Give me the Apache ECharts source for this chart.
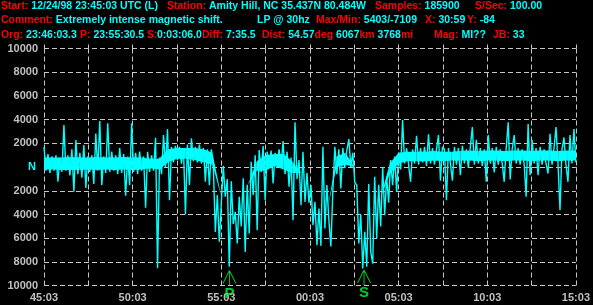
<!DOCTYPE html>
<html>
<head>
<meta charset="utf-8">
<script src="https://cdn.jsdelivr.net/npm/echarts@6/dist/echarts.min.js"></script>
<style>
html,body{margin:0;padding:0;background:#000;}
#chart{width:593px;height:305px;}
</style>
</head>
<body>
<div id="chart"></div>
<script>
// ---- data ----
// time axis: minutes after 23:45:03
const timeLabels = ['45:03', '50:03', '55:03', '00:03', '05:03', '10:03', '15:03'];
const durationMinutes = 30;
// arrival picks (minutes after 23:45:03)
const arrivalNames = ['P', 'S'];
const arrivalMinutes = [10.458, 18.05];
const arrivalMarkerLevel = [-9350, -9300];
// trace envelope samples (alternating highs/lows), evenly spaced over the window
const traceValues = [
  1700, -300, 1100, -500, 900, -300, 1000, -1240, 800, -400,
  3540, -300, 1000, -700, 1500, -2080, 2280, -600, 1200, -900,
  1860, -1750, 900, -400, 1000, -1430, 2840, -300, 3880, -1520,
  900, -500, 3690, -400, 1300, -300, 1000, -600, 1600, -500,
  1100, -2420, 900, -1520, 3690, -400, 1200, -600, 1300, -300,
  900, -3430, 1290, -400, 1000, -300, 2470, -8530, 800, -600,
  2700, 0, 3200, -2790, 1700, 400, 1800, 600, 1700, 300,
  1600, -3990, 1900, -1520, 2420, 500, 1700, 400, 1900, 300,
  1600, -1240, 1500, -1520, 1500, 0, -5460, -2360, -6300, -3000,
  100, -2500, -1000, -8410, -1200, -4800, -3770, -6440, -2500, -5000,
  -950, -7150, -1500, -5600, 450, -2360, 1000, -5320, 1430, -400,
  1770, -2790, 1300, 0, 1400, -1380, 1200, 200, 1500, 0,
  2200, -600, 1300, -1660, 800, -4470, 3770, -1000, 600, -3210,
  1290, -2930, -500, -3000, -1520, -4890, -2930, -6580, -3500, -6640,
  1720, -5180, -1520, -4500, -6700, -1940, 1720, -600, 1500, -1800,
  1600, -100, 1400, 2360, 0, 1200, -1300, -1520, -6440, -4000,
  -8550, -5460, -8400, -1430, -7150, -8130, -820, -6020, -1500, -5000,
  0, -4050, -800, -3000, 590, -1520, 900, -2080, 1200, -200,
  3960, 300, 1600, 200, -1240, 1500, 300, 2640, 200, 1600,
  400, 1700, 100, 2760, 300, 1600, 200, 1500, 2700, -1140,
  1700, 1500, -2790, 1600, 300, -1140, 1700, 200, 1600, -680,
  1800, 300, 1500, -80, 1700, 3380, 200, 2300, 300, 1600,
  100, 1500, -1240, 2700, 300, 1600, -450, 1700, 200, 1500,
  300, -1240, 1600, 3770, -1040, 1500, 2700, 300, 1600, 200,
  1500, 300, -2500, 3630, -680, 2280, 300, 1600, -680, 1700,
  200, 1500, 300, -540, 2800, 200, 1600, 3380, 300, -3630,
  1500, 2500, 200, -1240, 2700, 300, 3200, 400
];
// dense core of the trace, every half minute: upper and lower edges
// (equal edges where the trace has no solid core)
const coreTop = [
  800, 800, 800, 850, 800, 800, 850, 800, 800, 850,
  800, 800, 700, 700, 1500, 1600, 1600, 1600, 1500, 1200,
  -2500, -4000, -4000, -1500, 500, 1000, 1100, 1100, 500, -500,
  -3000, -4500, -3500, 900, 1200, 0, -7000, -4500, -2500, 300,
  1200, 1300, 1300, 1300, 1350, 1300, 1300, 1350, 1400, 1350,
  1400, 1400, 1350, 1400, 1400, 1350, 1400, 1400, 1350, 1400, 1400
];
const coreBottom = [
  -200, -200, -250, -250, -250, -200, -250, -200, -250, -200,
  -250, -200, -100, -200, 400, 700, 700, 600, 400, 200,
  -2500, -4000, -4000, -1500, -300, -300, 100, -200, -500, -500,
  -3000, -4500, -3500, 0, 200, 0, -7000, -4500, -2500, -600,
  300, 500, 500, 500, 550, 500, 550, 550, 550, 500,
  550, 550, 500, 550, 550, 500, 550, 550, 500, 550, 550
];

// header text: [line, left x, [[colour key, text], ...]]
const headerGroups = [
  [0, 1, [['r', 'Start: '], ['c', '12/24/98 23:45:03 UTC (L)']]],
  [0, 167, [['r', 'Station: '], ['c', 'Amity Hill, NC 35.437N 80.484W']]],
  [0, 375, [['r', 'Samples: '], ['c', '185900']]],
  [0, 475, [['r', 'S/Sec: '], ['c', '100.00']]],
  [1, 1, [['r', 'Comment: '], ['c', 'Extremely intense magnetic shift.']]],
  [1, 257, [['c', 'LP @ 30hz']]],
  [1, 316, [['r', 'Max/Min: '], ['c', '5403/-7109']]],
  [1, 425, [['r', 'X: '], ['c', '30:59']]],
  [1, 467, [['r', 'Y: '], ['c', '-84']]],
  [2, 1, [['r', 'Org: '], ['c', '23:46:03.3']]],
  [2, 80, [['r', 'P: '], ['c', '23:55:30.5']]],
  [2, 147, [['r', 'S: ']]],
  [2, 157, [['c', '0:03:06.0']]],
  [2, 202, [['r', 'Diff: '], ['c', '7:35.5']]],
  [2, 262, [['r', 'Dist: '], ['c', '54.57'], ['r', 'deg '], ['c', '6067'], ['r', 'km '], ['c', '3768'], ['r', 'mi']]],
  [2, 434, [['r', 'Mag: '], ['c', 'MI??']]],
  [2, 493, [['r', 'JB: '], ['c', '33']]]
];

// ---- build ----
const step = durationMinutes / (traceValues.length - 1);
const traceData = traceValues.map((v, i) => [i * step, v]);
const coreStep = durationMinutes / (coreTop.length - 1);
const coreData = coreTop.map((v, i) => [i * coreStep, v, coreBottom[i]]);
const arrivalData = arrivalNames.map((n, i) => ({ name: n, value: [arrivalMinutes[i], arrivalMarkerLevel[i]] }));

const FONT = '"Liberation Sans", Arial, sans-serif';
const GRID_COLOR = '#c8c8c8';
const LABEL_COLOR = '#c0c0c0';
const TRACE = '#00ffff';
const LINE_TOPS = [0.5, 15, 29.5];
const HEADER_SIZE = 10.5;

function esc(s) { return s.replace(/[{}|]/g, ''); }
const headerGraphics = headerGroups.map(g => ({
  type: 'text',
  x: g[1],
  y: LINE_TOPS[g[0]],
  style: {
    text: g[2].map(s => '{' + s[0] + '|' + esc(s[1]) + '}').join(''),
    rich: {
      r: { fill: '#ff0000', fontFamily: FONT, fontWeight: 'bold', fontSize: HEADER_SIZE },
      c: { fill: '#00ffff', fontFamily: FONT, fontWeight: 'bold', fontSize: HEADER_SIZE }
    }
  }
}));

function renderCore(params, api) {
  const i = params.dataIndex;
  if (i >= coreData.length - 1) return null;
  const a = coreData[i], b = coreData[i + 1];
  if (a[1] === a[2] && b[1] === b[2]) return null;
  const pts = [
    api.coord([a[0], a[1]]), api.coord([b[0], b[1]]),
    api.coord([b[0], b[2]]), api.coord([a[0], a[2]])
  ];
  return { type: 'polygon', shape: { points: pts }, style: { fill: TRACE } };
}

const chart = echarts.init(document.getElementById('chart'), null, { renderer: 'canvas' });
chart.setOption({
  backgroundColor: '#000000',
  animation: false,
  graphic: headerGraphics,
  grid: { left: 44, right: 15, top: 48.5, bottom: 19.3 },
  xAxis: [{
    type: 'value', min: 0, max: durationMinutes, interval: 2.5,
    axisLine: { show: false },
    axisTick: { show: true, length: 3, lineStyle: { color: GRID_COLOR } },
    axisLabel: {
      color: LABEL_COLOR, fontFamily: FONT, fontWeight: 'bold', fontSize: 11, margin: 7,
      formatter: v => (Math.abs(v % 5) < 1e-6 ? timeLabels[Math.round(v / 5)] : '')
    },
    splitLine: { show: true, lineStyle: { color: GRID_COLOR, type: [5, 3], width: 1 } }
  }, {
    type: 'value', position: 'top', min: 0, max: durationMinutes, interval: 2.5,
    axisLine: { show: false },
    axisTick: { show: true, length: 4, lineStyle: { color: GRID_COLOR } },
    axisLabel: { show: false },
    splitLine: { show: false }
  }],
  yAxis: {
    type: 'value', min: -10000, max: 10000, interval: 2000,
    axisLine: { show: false },
    axisTick: { show: false },
    axisLabel: {
      color: LABEL_COLOR, fontFamily: FONT, fontWeight: 'bold', fontSize: 11, margin: 6,
      formatter: v => (v === 0 ? '{n|N}' : String(Math.abs(v))),
      rich: { n: { color: '#00ffff', fontFamily: FONT, fontWeight: 'bold', fontSize: 11, padding: [0, 2, 0, 0] } }
    },
    splitLine: { show: true, lineStyle: { color: GRID_COLOR, type: [5, 3], width: 1 } }
  },
  series: [{
    type: 'custom',
    data: coreData,
    encode: { x: 0, y: [1, 2] },
    renderItem: renderCore,
    clip: true,
    z: 2
  }, {
    type: 'line',
    data: traceData,
    showSymbol: false,
    symbol: 'none',
    lineStyle: { color: TRACE, width: 1.4 },
    z: 3
  }, {
    type: 'scatter',
    data: arrivalData,
    symbol: 'path://M6,0 L6,15 M6,0 L0,13 M6,0 L12,13',
    symbolSize: [13, 15],
    itemStyle: { color: 'rgba(0,0,0,0)', borderColor: '#00ff40', borderWidth: 1 },
    label: {
      show: true, position: 'bottom', distance: 0,
      formatter: p => p.name,
      color: '#00ff40', fontFamily: FONT, fontWeight: 'bold', fontSize: 15
    },
    z: 5
  }]
});
</script>
</body>
</html>
